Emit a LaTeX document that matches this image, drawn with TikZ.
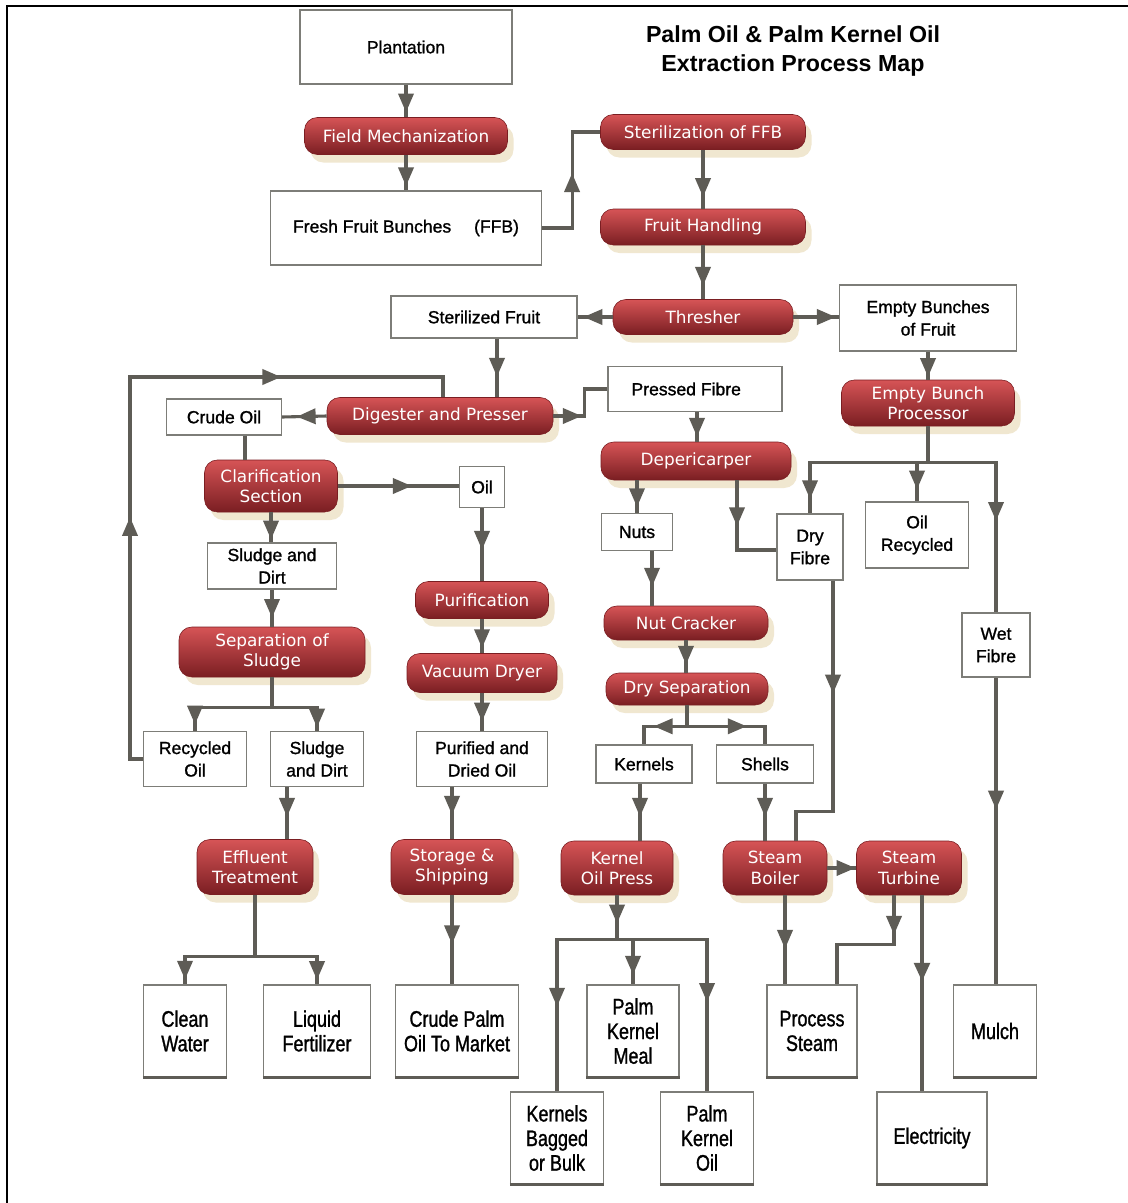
\documentclass[tikz,border=0pt]{standalone}
\usepackage{fontspec}
\setmainfont{Liberation Sans}
\newfontfamily\pillfont{DejaVu Sans}
\newfontfamily\boxfont[FakeBold=1.2]{Liberation Sans}
\newfontfamily\narrowfont[FakeStretch=0.8,FakeBold=1.2]{Liberation Sans}
\usepackage{tikz}
\usetikzlibrary{arrows.meta,calc,shadows,decorations.markings,positioning}
\usepackage{xcolor}
\definecolor{Wire}{RGB}{94,92,86}
\definecolor{Edge}{RGB}{125,125,120}
\definecolor{PillLight}{RGB}{214,84,86}
\definecolor{PillRed}{RGB}{193,56,59}
\definecolor{PillDark}{RGB}{122,30,34}
\definecolor{Glow}{RGB}{240,231,208}

\begin{document}
\begin{tikzpicture}[x=0.025cm, y=-0.025cm,
  >={Triangle[length=0.47cm,width=0.38cm]},
  sz/.style 2 args={minimum width=#1*0.025cm, minimum height=#2*0.025cm},
  box/.style={draw=Edge, fill=white, line width=0.8pt, inner sep=0pt, align=center, font=\boxfont\fontsize{12.5}{16}\selectfont},
  tall/.style={font=\narrowfont\fontsize{16}{17.5}\selectfont, append after command={(\tikzlastnode.south west) edge[draw=Wire, line width=1.6pt] (\tikzlastnode.south east)}},
  pill/.style={rounded corners=0.32cm, top color=PillLight, middle color=PillRed, bottom color=PillDark, draw=PillDark, line width=0.4pt, text=white, inner sep=0pt, align=center, font=\pillfont\fontsize{12}{14.5}\selectfont, drop shadow={fill=Glow, opacity=1, shadow xshift=0.15cm, shadow yshift=-0.2cm}},
  flow/.style={color=Wire, line width=2.2pt, postaction={decorate}, decoration={markings, mark=at position #1 with {\arrow{>}}}},
  flow/.default=0.5,
  flowtwo/.style 2 args={color=Wire, line width=2.2pt, postaction={decorate}, decoration={markings, mark=at position #1 with {\arrow{>}}, mark=at position #2 with {\arrow{>}}}},
  link/.style={color=Wire, line width=2.2pt}]
\fill[white] (0,0) rectangle (1128,1203);
\useasboundingbox (0,0) rectangle (1128,1203);
\draw[line width=2.1pt] (7,1203) -- (7,6) -- (1128,6);
\node[font=\bfseries\fontsize{16.5}{20}\selectfont, align=center] (title) at (793,51) {Palm Oil \& Palm Kernel Oil\\Extraction Process Map};
%
% boxes
\node[box, sz={212}{74}] (plant) at (406,47) {Plantation};
\node[box, sz={271}{74}] (ffb) at (406,228) {Fresh Fruit Bunches\hspace{1.3em}(FFB)};
\node[box, sz={186}{42}] (sfruit) at (484,317) {Sterilized Fruit};
\node[box, sz={177}{66}] (ebf) at (928,318) {Empty Bunches\\of Fruit};
\node[box, sz={115}{36}] (coil) at (224,417) {Crude Oil};
\node[box, sz={174}{45}] (pfibre) at (695,389) {Pressed Fibre\hspace{1em}};
\node[box, sz={45}{41}] (oilbox) at (482,487) {Oil};
\node[box, sz={129}{46}] (sludge) at (272,566) {Sludge and\\Dirt};
\node[box, sz={71}{37}] (nuts) at (637,532) {Nuts};
\node[box, sz={66}{66}] (dfibre) at (810,547) {Dry\\Fibre};
\node[box, sz={103}{66}] (oilrec) at (917,535) {Oil\\Recycled};
\node[box, sz={68}{64}] (wfibre) at (996,645) {Wet\\Fibre};
\node[box, sz={103}{55}] (recoil) at (195,759) {Recycled\\Oil};
\node[box, sz={93}{55}] (sludgeb) at (317,759) {Sludge\\and Dirt};
\node[box, sz={131}{55}] (pdoil) at (482,759) {Purified and\\Dried Oil};
\node[box, sz={96}{38}] (kernels) at (644,764) {Kernels};
\node[box, sz={97}{38}] (shells) at (765,764) {Shells};
\node[box, tall, sz={83}{92}] (cwater) at (185,1031) {Clean\\Water};
\node[box, tall, sz={107}{92}] (lfert) at (317,1031) {Liquid\\Fertilizer};
\node[box, tall, sz={123}{92}] (cpo) at (457,1031) {Crude Palm\\Oil To Market};
\node[box, tall, sz={92}{92}] (pkm) at (633,1031) {Palm\\Kernel\\Meal};
\node[box, tall, sz={90}{92}] (psteam) at (812,1031) {Process\\Steam};
\node[box, tall, sz={83}{92}] (mulch) at (995,1031) {Mulch};
\node[box, tall, sz={93}{92}] (kbb) at (557,1138) {Kernels\\Bagged\\or Bulk};
\node[box, tall, sz={93}{92}] (pko) at (707,1138) {Palm\\Kernel\\Oil};
\node[box, tall, sz={110}{92}] (elec) at (932,1138) {Electricity};
%
% process steps
\node[pill, sz={203}{37}] (fmech) at (406,136) {Field Mechanization};
\node[pill, sz={205}{35}] (steril) at (703,132) {Sterilization of FFB};
\node[pill, sz={205}{36}] (fhand) at (703,227) {Fruit Handling};
\node[pill, sz={180}{35}] (thresh) at (703,317) {Thresher};
\node[pill, sz={226}{37}] (dig) at (440,416) {Digester and Presser};
\node[pill, sz={173}{46}] (ebp) at (928,403) {Empty Bunch\\Processor};
\node[pill, sz={133}{52}] (clar) at (271,486) {Clarification\\Section};
\node[pill, sz={190}{38}] (deperi) at (696,461) {Depericarper};
\node[pill, sz={133}{37}] (purif) at (482,600) {Purification};
\node[pill, sz={186}{50}] (sepsl) at (272,652) {Separation of\\Sludge};
\node[pill, sz={164}{34}] (ncrack) at (686,623) {Nut Cracker};
\node[pill, sz={150}{39}] (vdry) at (482,673) {Vacuum Dryer};
\node[pill, sz={162}{32}] (dsep) at (687,689) {Dry Separation};
\node[pill, sz={116}{55}] (efflu) at (255,867) {Effluent\\Treatment};
\node[pill, sz={122}{55}] (stor) at (452,867) {Storage \&\\Shipping};
\node[pill, sz={112}{54}] (kop) at (617,868) {Kernel\\Oil Press};
\node[pill, sz={104}{54}] (sboil) at (775,868) {Steam\\Boiler};
\node[pill, sz={105}{54}] (sturb) at (909,868) {Steam\\Turbine};
%
% connectors
\draw[flow=0.85] (plant.south) -- (fmech.north);
\draw[flow=0.88] (fmech.south) -- (ffb.north);
\draw[flow=0.55] (ffb.east) -- ++(30,0) |- (steril.west);
\draw[flow=0.8] (steril.south) -- (fhand.north);
\draw[flow=0.75] (fhand.south) -- (thresh.north);
\draw[flow=0.83] (thresh.west) -- (sfruit.east);
\draw[flow=0.93] (thresh.east) -- (thresh.east -| ebf.west);
\draw[flow=0.65] ($(sfruit.south)+(13,0)$) coordinate (sf1) -- (sf1 |- dig.north);
\draw[flow=0.67] (dig.west) -- (coil.east);
\draw[flow=0.35] (dig.east) -- ++(31,0) |- (pfibre.west);
\coordinate (fbk) at (130,377);
\draw[flowtwo={0.35}{0.75}] (recoil.west) -| (fbk) -| ($(dig.north)+(3,0)$);
\draw[link] ($(coil.south)+(21,0)$) coordinate (co1) -- (co1 |- clar.north);
\draw[flow=0.61] (clar.east) -- (clar.east -| oilbox.west);
\draw[flow=0.9] (clar.south) -- (clar.south |- sludge.north);
\draw[flow=0.57] (oilbox.south) -- (purif.north);
\draw[flow=0.76] (sludge.south) -- (sludge.south |- sepsl.north);
\draw[flow=0.95] (sepsl.south) -- ++(0,30) coordinate (sj) -| (recoil.north);
\draw[flow=0.95] (sj) -| (sludgeb.north);
\draw[flow=0.57] ($(sludgeb.south)+(-30,0)$) coordinate (sb1) -- (sb1 |- efflu.north);
\draw[flow=0.85] (purif.south) -- (vdry.north);
\draw[flow=0.75] (vdry.south) -- (pdoil.north);
\draw[flow=0.53] ($(pdoil.south)+(-30,0)$) coordinate (pd1) -- (pd1 |- stor.north);
\draw[flow=0.83] ($(pfibre.south)+(2,0)$) coordinate (pf1) -- (pf1 |- deperi.north);
\draw[flow=0.9] (ebf.south) -- (ebf.south |- ebp.north);
\draw[flow=0.93] (ebp.south) -- ++(0,36) coordinate (ej) -| (dfibre.north);
\draw[flow=0.76] (ej) -| (oilrec.north);
\draw[flow=0.58] (ej) -| (wfibre.north);
\draw[flow=0.82] ($(deperi.south)+(-59,0)$) coordinate (dp1) -- (dp1 |- nuts.north);
\draw[flow=0.42] ($(deperi.south)+(41,0)$) coordinate (dp2) |- ($(dfibre.west)+(0,3)$);
\draw[flow=0.65] ($(nuts.south)+(15,0)$) coordinate (nu1) -- (nu1 |- ncrack.north);
\draw[flow=0.75] (ncrack.south) -- (ncrack.south |- dsep.north);
\draw[flow=0.66] (dsep.south) -- ++(0,21) coordinate (dj) -| (kernels.north);
\draw[flow=0.62] (dj) -| (shells.north);
\draw[flow=0.58] ($(kernels.south)+(-4,0)$) coordinate (ke1) -- (ke1 |- kop.north);
\draw[flow=0.58] (shells.south) -- (shells.south |- sboil.north);
\draw[flow=0.38] ($(dfibre.south)+(23,0)$) coordinate (df1) |- ($(sboil.north)+(21,-29)$) -- ($(sboil.north)+(21,0)$);
\draw[flow=0.97] (sboil.east) -- (sboil.east -| sturb.west);
\draw[flow=0.43] (wfibre.south) -- (wfibre.south |- mulch.north);
\draw[flow=0.64] (kop.south) -- ++(0,44) coordinate (kj);
\draw[flow=0.6] (kj) -| (kbb.north);
\draw[flow=0.84] (kj) -| (pkm.north);
\draw[flow=0.63] (kj) -| (pko.north);
\draw[link] (efflu.south) -- ++(0,62) coordinate (efj);
\draw[flow=0.95] (efj) -| (cwater.north);
\draw[flow=0.95] (efj) -| (lfert.north);
\draw[flow=0.55] (stor.south) -- (stor.south |- cpo.north);
\draw[flow=0.6] ($(sboil.south)+(10,0)$) coordinate (bo1) -- (bo1 |- psteam.north);
\draw[flow=0.27] ($(sturb.south)+(-15,0)$) coordinate (tu1) |- ($(psteam.north)+(25,-40)$) -- ($(psteam.north)+(25,0)$);
\draw[flow=0.44, line width=3.4pt] ($(sturb.south)+(13,0)$) coordinate (tu2) -- (tu2 |- elec.north);
%
\end{tikzpicture}
\end{document}
